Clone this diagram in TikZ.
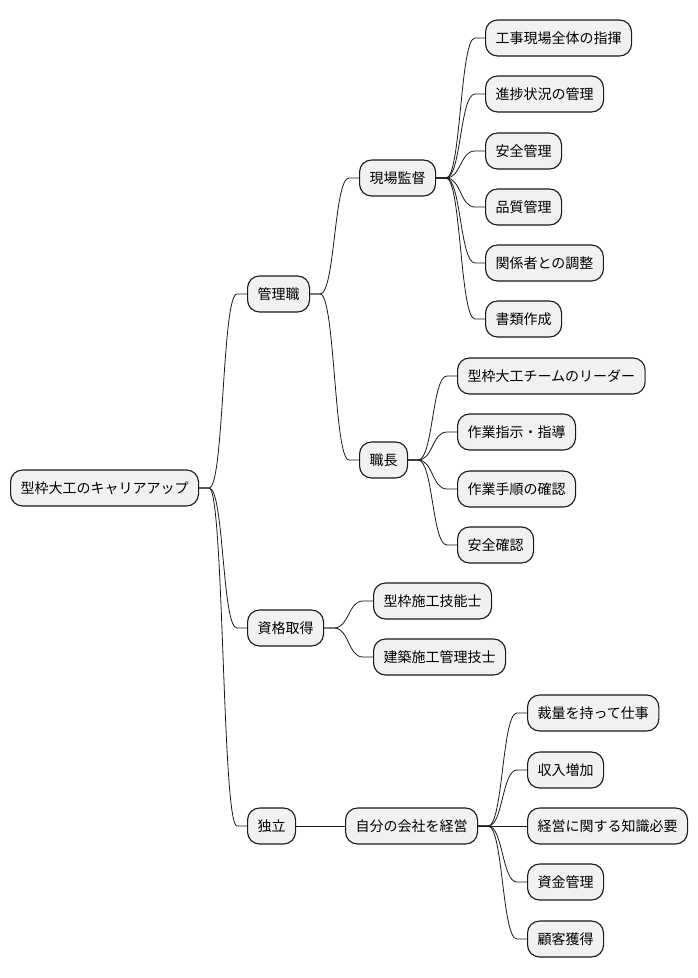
\documentclass[tikz,border=0pt]{standalone}
\usepackage{fontspec}
\newfontfamily\jpfont{Noto Sans CJK JP}
\usetikzlibrary{positioning}
\definecolor{topicfill}{RGB}{241,241,241}
\definecolor{topicline}{RGB}{24,24,24}

\begin{document}
\begin{tikzpicture}[
    x=1pt, y=-1pt,
    every node/.style={font=\jpfont\fontsize{14}{16}\selectfont},
    topic/.style={draw=topicline, line width=1.1pt, fill=topicfill, rounded corners=12pt,
                  minimum height=36pt, inner xsep=10pt, inner ysep=0pt, anchor=west},
    link/.style={draw=topicline, line width=0.8pt}
]
\useasboundingbox (0,0) rectangle (698,978);

% root and first level
\node[topic] (root) at (10,488) {型枠大工のキャリアアップ};
\node[topic] (kanri) at (247,294) {管理職};
\node[topic] (shikaku) at (247,628) {資格取得};
\node[topic] (dokuritsu) at (247,826) {独立};

% 管理職
\node[topic] (genba) at (359,178) {現場監督};
\node[topic] (shokucho) at (359,460) {職長};

\node[topic] (g1) at (485,38) {工事現場全体の指揮};
\node[topic] (g2) at (485,94) {進捗状況の管理};
\node[topic] (g3) at (485,151) {安全管理};
\node[topic] (g4) at (485,207) {品質管理};
\node[topic] (g5) at (485,263) {関係者との調整};
\node[topic] (g6) at (485,319) {書類作成};

\node[topic] (s1) at (457,376) {型枠大工チームのリーダー};
\node[topic] (s2) at (457,432) {作業指示・指導};
\node[topic] (s3) at (457,489) {作業手順の確認};
\node[topic] (s4) at (457,545) {安全確認};

% 資格取得
\node[topic] (q1) at (373,601) {型枠施工技能士};
\node[topic] (q2) at (373,657) {建築施工管理技士};

% 独立
\node[topic] (keiei) at (345,826) {自分の会社を経営};
\node[topic] (k1) at (527,713) {裁量を持って仕事};
\node[topic] (k2) at (527,770) {収入増加};
\node[topic] (k3) at (527,826) {経営に関する知識必要};
\node[topic] (k4) at (527,882) {資金管理};
\node[topic] (k5) at (527,939) {顧客獲得};

% branches
\foreach \p/\c in {root/kanri, root/shikaku, root/dokuritsu,
                   kanri/genba, kanri/shokucho,
                   genba/g1, genba/g2, genba/g3, genba/g4, genba/g5, genba/g6,
                   shokucho/s1, shokucho/s2, shokucho/s3, shokucho/s4,
                   shikaku/q1, shikaku/q2,
                   dokuritsu/keiei,
                   keiei/k1, keiei/k2, keiei/k3, keiei/k4, keiei/k5}
  \draw[link] (\p.east) -- ++(10,0) to[out=0, in=180, distance=15pt] ([xshift=-10]\c.west) -- (\c.west);
\end{tikzpicture}
\end{document}
